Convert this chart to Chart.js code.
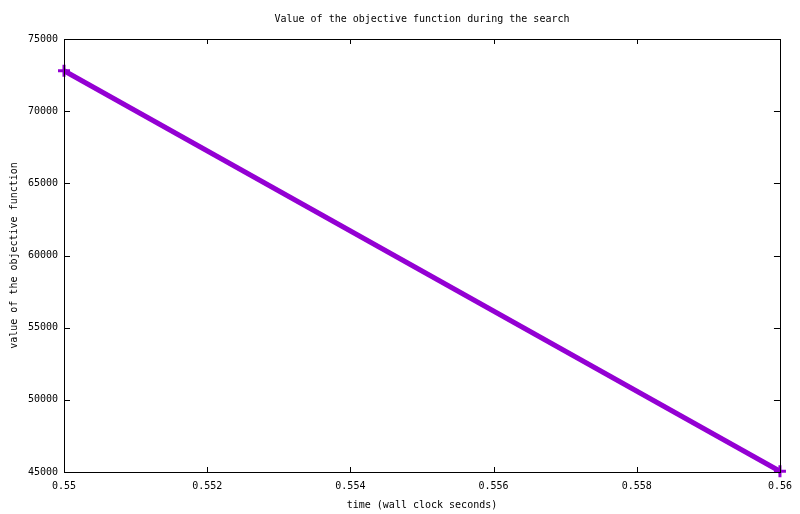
<!DOCTYPE html>
<html>
<head>
<meta charset="utf-8">
<script src="https://cdn.jsdelivr.net/npm/chart.js@4"></script>
<style>
  html, body { margin: 0; padding: 0; background: #fff; }
  #wrap { width: 800px; height: 514px; }
</style>
</head>
<body>
<div id="wrap"><canvas id="myChart"></canvas></div>
<script>
// data
const times = [0.55, 0.56];
const objective = [72800, 45050];
const xTicks = [0.55, 0.552, 0.554, 0.556, 0.558, 0.56];
const xTickLabels = ['0.55', '0.552', '0.554', '0.556', '0.558', '0.56'];
const yTicks = [45000, 50000, 55000, 60000, 65000, 70000, 75000];
const yTickLabels = ['45000', '50000', '55000', '60000', '65000', '70000', '75000'];

const monoFont = { family: 'DejaVu Sans Mono', size: 10, lineHeight: 1.2 };
Chart.defaults.color = '#000';
Chart.defaults.font = monoFont;

// gnuplot style frame: box all round, ticks pointing inwards, mirrored
const framePlugin = {
    id: 'frame',
    afterLayout(chart) {
        // centre the title over the plot area, like gnuplot does
        if (chart.titleBlock) {
            chart.titleBlock.left = chart.chartArea.left;
            chart.titleBlock.right = chart.chartArea.right;
            chart.titleBlock.width = chart.chartArea.right - chart.chartArea.left;
        }
    },
    afterDatasetsDraw(chart) {
        const ctx = chart.ctx;
        const a = chart.chartArea;
        const xs = chart.scales.x, ys = chart.scales.y;
        ctx.save();
        ctx.strokeStyle = '#000';
        ctx.lineWidth = 1;
        ctx.beginPath();
        xTicks.forEach(function(v){
            let px = Math.round(xs.getPixelForValue(v)) + 0.5;
            ctx.moveTo(px, a.bottom); ctx.lineTo(px, a.bottom - 5);
            ctx.moveTo(px, a.top); ctx.lineTo(px, a.top + 5);
        });
        yTicks.forEach(function(v){
            let py = Math.round(ys.getPixelForValue(v)) + 0.5;
            ctx.moveTo(a.left, py); ctx.lineTo(a.left + 6, py);
            ctx.moveTo(a.right, py); ctx.lineTo(a.right - 6, py);
        });
        ctx.stroke();
        ctx.strokeRect(Math.round(a.left) + 0.5, Math.round(a.top) + 0.5,
            Math.round(a.right - a.left), Math.round(a.bottom - a.top));
        ctx.restore();
    }
};

let ctx = document.getElementById('myChart');
let myChart = new Chart(ctx, {
    type: 'scatter',
    data: {
        datasets: [{
            data: times.map(function(t, i){ return { x: t, y: objective[i] }; }),
            showLine: true,
            borderColor: '#9400D3',
            backgroundColor: '#9400D3',
            borderWidth: 5,
            pointStyle: 'cross',
            pointRadius: 6,
            pointBorderWidth: 3,
            pointHoverRadius: 6,
            clip: false
        }]
    },
    options: {
        responsive: true,
        maintainAspectRatio: false,
        animation: false,
        layout: { padding: { left: 0, right: 19, top: 0, bottom: 0 } },
        plugins: {
            legend: { display: false },
            tooltip: { enabled: false },
            title: {
                display: true,
                text: 'Value of the objective function during the search',
                color: '#000',
                font: { family: 'DejaVu Sans Mono', size: 10, weight: 'normal', lineHeight: 1.2 },
                padding: { top: 13, bottom: 14 }
            }
        },
        scales: {
            x: {
                type: 'linear',
                min: xTicks[0],
                max: xTicks[xTicks.length - 1],
                grid: { display: false, drawTicks: false },
                border: { display: false },
                afterFit: function(scale){ scale.height = 42; },
                afterBuildTicks: function(scale){
                    scale.ticks = xTicks.map(function(v){ return { value: v }; });
                },
                ticks: {
                    padding: 8,
                    maxRotation: 0,
                    callback: function(value, index){ return xTickLabels[index]; }
                },
                title: {
                    display: true,
                    text: 'time (wall clock seconds)',
                    padding: { top: 0, bottom: 3 }
                }
            },
            y: {
                type: 'linear',
                min: yTicks[0],
                max: yTicks[yTicks.length - 1],
                grid: { display: false, drawTicks: false },
                border: { display: false },
                afterFit: function(scale){ scale.width = 64; },
                afterBuildTicks: function(scale){
                    scale.ticks = yTicks.map(function(v){ return { value: v }; });
                },
                ticks: {
                    padding: 6,
                    callback: function(value, index){ return yTickLabels[index]; }
                },
                title: {
                    display: true,
                    text: 'value of the objective function',
                    padding: { top: 8, bottom: 0 }
                }
            }
        }
    },
    plugins: [framePlugin]
});
</script>
</body>
</html>
